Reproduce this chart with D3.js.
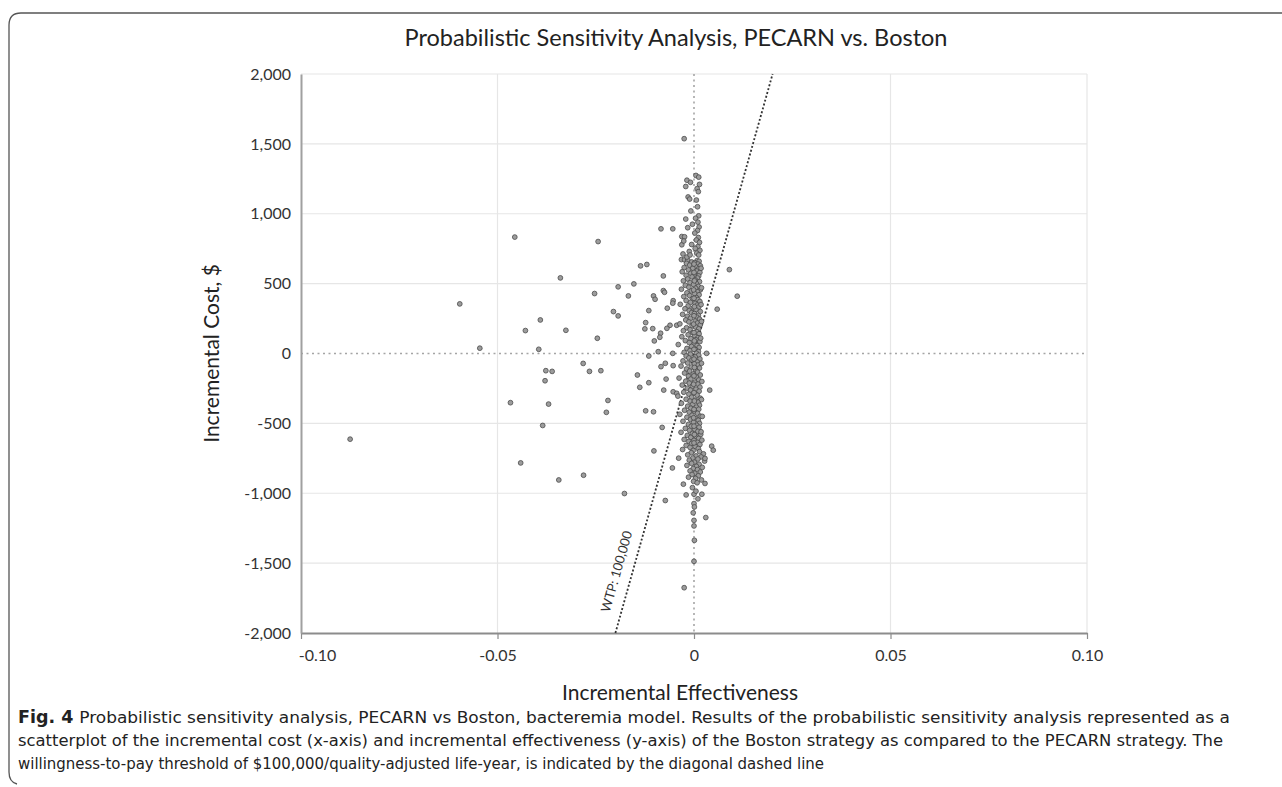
<!DOCTYPE html>
<html>
<head>
<meta charset="utf-8">
<script src="https://cdn.jsdelivr.net/npm/d3@7"></script>
<style>
  body { margin: 0; background: #fff; }
  svg { display: block; }
</style>
</head>
<body>
<svg id="chart"></svg>
<script>
const chartTitle = "Probabilistic Sensitivity Analysis, PECARN vs. Boston";
const xTitle = "Incremental Effectiveness";
const yTitle = "Incremental Cost, $";

const xTicks = [-0.1, -0.05, 0, 0.05, 0.1];
const xTickLabels = ["-0.10", "-0.05", "0", "0.05", "0.10"];
const yTicks = [-2000, -1500, -1000, -500, 0, 500, 1000, 1500, 2000];
const yTickLabels = ["-2,000", "-1,500", "-1,000", "-500", "0", "500", "1,000", "1,500", "2,000"];

const wtp = 100000;
const wtpLabel = "WTP: 100,000";

// [incremental effectiveness, incremental cost]
const outlierPoints = [
  [-0.0025, 1537], [-0.0456, 833], [-0.0244, 801], [-0.0340, 541], [-0.0596, 355],
  [-0.0084, 892], [-0.0054, 892], [-0.0136, 627], [-0.0120, 637], [-0.0078, 555],
  [-0.0253, 429], [-0.0193, 477], [-0.0153, 498], [-0.0167, 412], [-0.0205, 300],
  [-0.0193, 269], [-0.0391, 240], [-0.0429, 164], [-0.0326, 166], [-0.0246, 109],
  [-0.0545, 38], [-0.0395, 30], [-0.0115, 307], [-0.0103, 412], [-0.0099, 388],
  [-0.0078, 450], [-0.0075, 438], [-0.0123, 221], [-0.0105, 178], [-0.0125, 176],
  [-0.0068, 324], [-0.0053, 378], [-0.0054, 360], [-0.0085, 145], [-0.0087, 116],
  [-0.0101, 90], [-0.0061, 202], [-0.0044, 202], [-0.0069, 180], [-0.0115, -18],
  [-0.0091, 13], [-0.0054, 1], [0.0059, 317], [0.0090, 600], [0.0110, 410],
  [-0.0282, -71], [-0.0377, -123], [-0.0361, -128], [-0.0266, -128], [-0.0237, -123],
  [-0.0379, -195], [-0.0467, -352], [-0.0370, -362], [-0.0219, -336], [-0.0223, -421],
  [-0.0385, -515], [-0.0441, -783], [-0.0344, -905], [-0.0281, -871], [-0.0177, -1002],
  [-0.0144, -154], [-0.0138, -242], [-0.0115, -209], [-0.0123, -410], [-0.0103, -417],
  [-0.0071, -183], [-0.0077, -262], [-0.0081, -529], [-0.0102, -697], [-0.0073, -1052],
  [-0.0055, -819], [-0.0039, -749], [-0.0084, -94], [-0.0073, -70], [-0.0053, -87],
  [-0.0053, -274], [-0.0044, -285], [-0.0875, -613], [-0.0031, 837], [-0.0031, 778]
];

const clusterPoints = [
  [0.0005, 1274], [0.0012, 1262], [-0.0018, 1240], [-0.0009, 1225], [0.0014, 1210],
  [-0.0021, 1195], [0.0008, 1180], [0.0011, 1158], [-0.0015, 1120], [-0.0011, 1105],
  [0.0006, 1098], [0.0009, 1050], [-0.0008, 1020], [0.0012, 985], [0.0004, 968],
  [-0.0021, 962], [0.0010, 940], [-0.0004, 925], [0.0013, 905], [-0.0016, 900],
  [0.0009, 880], [0.0002, 862], [-0.0024, 835], [0.0011, 830], [0.0006, 812],
  [-0.0026, 805], [0.0014, 795], [-0.0006, 780], [0.0010, 765], [0.0003, 752],
  [0.0015, 738], [-0.0012, 730], [0.0007, 718], [-0.0028, 712], [0.0012, 705],
  [-0.0032, 672], [-0.0024, 670], [-0.0016, 668], [0.0008, 665], [0.0013, 660],
  [-0.0006, 655], [0.0002, 650], [-0.0019, 645], [0.0010, 640], [-0.0011, 632],
  [0.0016, 628], [0.0004, 622], [-0.0025, 615], [-0.0003, 610], [0.0011, 604],
  [-0.0014, 598], [0.0007, 590], [-0.0030, 585], [0.0015, 580], [-0.0008, 574],
  [0.0001, 568], [-0.0020, 560], [0.0012, 555], [-0.0005, 548], [0.0009, 540],
  [-0.0016, 533], [0.0003, 527], [-0.0027, 520], [0.0014, 514], [-0.0010, 507],
  [0.0006, 500], [-0.0001, 494], [-0.0022, 488], [0.0011, 480], [-0.0013, 474],
  [0.0004, 467], [-0.0032, 460], [0.0016, 455], [-0.0007, 448], [0.0009, 441],
  [-0.0018, 434], [0.0002, 428], [0.0013, 420], [-0.0011, 414], [-0.0026, 407],
  [0.0006, 400], [-0.0004, 392], [0.0010, 386], [-0.0020, 379], [0.0015, 372],
  [-0.0009, 366], [0.0003, 358], [-0.0035, 352], [0.0008, 346], [-0.0015, 340],
  [0.0012, 333], [-0.0002, 326], [-0.0023, 320], [0.0005, 313], [-0.0012, 306],
  [0.0016, 300], [-0.0006, 292], [0.0001, 286], [-0.0029, 280], [0.0011, 273],
  [-0.0017, 266], [0.0007, 260], [-0.0009, 252], [0.0014, 246], [-0.0021, 240],
  [0.0003, 232], [-0.0013, 226], [0.0009, 218], [-0.0036, 212], [0.0016, 205],
  [-0.0005, 198], [0.0004, 190], [-0.0019, 184], [0.0012, 176], [-0.0010, 170],
  [-0.0027, 163], [0.0007, 156], [-0.0003, 148], [0.0013, 141], [-0.0015, 134],
  [0.0002, 127], [-0.0031, 120], [0.0010, 113], [-0.0008, 106], [0.0005, 98],
  [-0.0022, 92], [0.0015, 85], [-0.0012, 78], [0.0001, 70], [-0.0040, 64],
  [0.0008, 57], [-0.0006, 50], [0.0013, 43], [-0.0018, 36], [0.0004, 28],
  [-0.0010, 21], [0.0011, 14], [-0.0025, 8], [0.0006, 2],
  [0.0000, 640], [0.0000, 580], [0.0001, 520], [-0.0001, 455], [0.0000, 395],
  [0.0001, 335], [0.0000, 270], [-0.0001, 210], [0.0000, 150], [0.0001, 90],
  [0.0000, 30], [0.0018, 610], [0.0019, 470], [0.0018, 350], [0.0019, 230],
  [0.0017, 110], [-0.0018, 690], [-0.0010, 705],
  [-0.0009, -5], [0.0012, -12], [-0.0020, -18], [0.0003, -25], [-0.0013, -32],
  [0.0015, -39], [-0.0005, -46], [-0.0028, -53], [0.0008, -60], [-0.0016, -68],
  [0.0001, -75], [0.0011, -82], [-0.0033, -90], [-0.0007, -97], [0.0014, -104],
  [-0.0019, -111], [0.0004, -118], [-0.0011, -126], [0.0009, -133], [-0.0024, -140],
  [-0.0002, -147], [0.0016, -154], [-0.0014, -162], [0.0006, -169], [-0.0038, -176],
  [-0.0008, -183], [0.0012, -190], [-0.0021, -198], [0.0002, -205], [-0.0012, -212],
  [0.0010, -219], [-0.0030, -226], [-0.0004, -234], [0.0015, -241], [-0.0017, -248],
  [0.0005, -255], [-0.0009, -262], [0.0013, -270], [-0.0026, -277], [0.0000, -284],
  [-0.0013, -291], [0.0008, -298], [-0.0041, -305], [-0.0006, -313], [0.0016, -320],
  [-0.0020, -327], [0.0003, -334], [-0.0010, -341], [0.0011, -348], [-0.0032, -356],
  [-0.0003, -363], [0.0014, -370], [-0.0016, -377], [0.0006, -384], [-0.0008, -392],
  [0.0012, -399], [-0.0024, -406], [0.0001, -413], [-0.0012, -420], [0.0009, -428],
  [-0.0036, -435], [-0.0005, -442], [0.0016, -449], [-0.0018, -456], [0.0004, -464],
  [-0.0009, -471], [0.0011, -478], [-0.0028, -485], [-0.0001, -492], [0.0014, -500],
  [-0.0014, -507], [0.0007, -514], [-0.0007, -521], [0.0013, -528], [-0.0022, -536],
  [0.0002, -543], [-0.0011, -550], [0.0010, -557], [-0.0033, -564], [-0.0004, -572],
  [0.0017, -579], [-0.0017, -586], [0.0005, -593], [-0.0008, -600], [0.0012, -608],
  [-0.0025, -615], [0.0000, -622], [-0.0013, -629], [0.0009, -636], [-0.0006, -644],
  [0.0015, -651], [-0.0020, -658], [0.0003, -665], [-0.0010, -672], [0.0011, -680],
  [-0.0029, -687], [-0.0002, -694],
  [0.0000, -40], [0.0001, -100], [0.0000, -160], [-0.0001, -220], [0.0000, -280],
  [0.0001, -340], [0.0000, -400], [-0.0001, -460], [0.0000, -520], [0.0001, -580],
  [0.0000, -640], [0.0019, -70], [0.0020, -200], [0.0019, -330], [0.0021, -450],
  [0.0018, -560], [0.0020, -620],
  [0.0014, -702], [-0.0007, -710], [0.0024, -718], [-0.0016, -725], [0.0005, -733],
  [0.0018, -740], [-0.0003, -748], [0.0010, -755], [-0.0012, -763], [0.0027, -770],
  [0.0001, -778], [-0.0006, -786], [0.0013, -793], [-0.0018, -801], [0.0006, -808],
  [0.0021, -815], [-0.0002, -823], [0.0009, -831], [-0.0010, -840], [0.0016, -848],
  [0.0002, -857], [-0.0005, -866], [0.0011, -875], [-0.0014, -885], [0.0004, -894],
  [0.0019, -905], [-0.0001, -915], [0.0008, -925],
  [-0.0027, -935], [-0.0020, -1012], [0.0000, -1007], [0.0020, -1007], [0.0028, -930],
  [0.0000, -1074], [0.0001, -1098], [0.0000, -1194], [0.0000, -1234], [0.0001, -1337],
  [0.0000, -1487], [-0.0025, -1676], [0.0030, -1174], [0.0045, -663], [0.0049, -692],
  [0.0028, -751], [0.0040, -262], [0.0032, 1], [-0.0004, -960], [0.0005, -985],
  [0.0010, -1040], [-0.0002, -1140]
];

const captionLabel = "Fig. 4";
const captionLines = [
  "Probabilistic sensitivity analysis, PECARN vs Boston, bacteremia model. Results of the probabilistic sensitivity analysis represented as a",
  "scatterplot of the incremental cost (x-axis) and incremental effectiveness (y-axis) of the Boston strategy as compared to the PECARN strategy. The",
  "willingness-to-pay threshold of $100,000/quality-adjusted life-year, is indicated by the diagonal dashed line"
];

const width = 1282, height = 787;
const plot = { left: 301, right: 1087, top: 74, bottom: 633 };
const chartFont = "Lato, 'Open Sans', sans-serif";

const svg = d3.select("#chart")
  .attr("width", width)
  .attr("height", height)
  .style("background", "#fff");

// frame of the figure
svg.append("path")
  .attr("d", "M1282,13 H21 Q9,13 9,25 V772 Q9,782 17,784")
  .attr("fill", "none")
  .attr("stroke", "#555")
  .attr("stroke-width", 1.3);

const x = d3.scaleLinear().domain([-0.1, 0.1]).range([plot.left, plot.right]);
const y = d3.scaleLinear().domain([-2000, 2000]).range([plot.bottom, plot.top]);

// gridlines
svg.append("g")
  .selectAll("line")
  .data(yTicks.filter(d => d !== 0 && d !== -2000))
  .join("line")
  .attr("x1", plot.left).attr("x2", plot.right)
  .attr("y1", d => y(d)).attr("y2", d => y(d))
  .attr("stroke", "#e6e6e6").attr("stroke-width", 1.2);

svg.append("g")
  .selectAll("line")
  .data(xTicks.filter(d => d !== 0 && d !== -0.1))
  .join("line")
  .attr("x1", d => x(d)).attr("x2", d => x(d))
  .attr("y1", plot.top).attr("y2", plot.bottom)
  .attr("stroke", "#e6e6e6").attr("stroke-width", 1.2);

// zero reference lines
svg.append("line")
  .attr("x1", plot.left).attr("x2", plot.right)
  .attr("y1", y(0)).attr("y2", y(0))
  .attr("stroke", "#a5a5a5").attr("stroke-width", 1.6)
  .attr("stroke-dasharray", "2,3.5");

svg.append("line")
  .attr("x1", x(0)).attr("x2", x(0))
  .attr("y1", plot.top).attr("y2", plot.bottom)
  .attr("stroke", "#a5a5a5").attr("stroke-width", 1.6)
  .attr("stroke-dasharray", "2,3.5");

// axes
const xAxis = svg.append("g")
  .attr("transform", "translate(0," + plot.bottom + ")")
  .call(d3.axisBottom(x).tickValues(xTicks)
    .tickFormat((d, i) => xTickLabels[i])
    .tickSizeInner(6).tickSizeOuter(0).tickPadding(11));
xAxis.select(".domain").attr("stroke", "#8c8c8c").attr("stroke-width", 2);
xAxis.selectAll(".tick line").attr("stroke", "#8c8c8c").attr("stroke-width", 1.2);
xAxis.selectAll("text")
  .attr("font-family", chartFont).attr("font-size", 16).attr("fill", "#333")
  .attr("dx", d => d === -0.1 ? 16 : 0);

const yAxis = svg.append("g")
  .attr("transform", "translate(" + plot.left + ",0)")
  .call(d3.axisLeft(y).tickValues(yTicks)
    .tickFormat((d, i) => yTickLabels[i])
    .tickSizeInner(0).tickSizeOuter(0).tickPadding(10));
yAxis.select(".domain").attr("stroke", "#a0a0a0").attr("stroke-width", 2);
yAxis.selectAll("text")
  .attr("font-family", chartFont).attr("font-size", 16).attr("fill", "#333");

// willingness-to-pay threshold line
const wtpCosts = [-2000, 2000];
const wtpLine = d3.line()
  .x(d => x(d / wtp))
  .y(d => y(d));
svg.append("path")
  .datum(wtpCosts)
  .attr("d", wtpLine)
  .attr("fill", "none")
  .attr("stroke", "#333")
  .attr("stroke-width", 1.8)
  .attr("stroke-dasharray", "2,2");

const wtpAngle = Math.atan2(y(2000) - y(-2000), x(2000 / wtp) - x(-2000 / wtp)) * 180 / Math.PI;
const labelCost = -1590;
svg.append("text")
  .attr("transform", "translate(" + x(labelCost / wtp) + "," + y(labelCost) + ") rotate(" + wtpAngle + ")")
  .attr("dy", -11)
  .attr("text-anchor", "middle")
  .attr("font-family", chartFont)
  .attr("font-size", 13)
  .attr("fill", "#333")
  .text(wtpLabel);

// PSA scatter
const allPoints = outlierPoints.concat(clusterPoints);
svg.append("g")
  .selectAll("circle")
  .data(allPoints)
  .join("circle")
  .attr("cx", d => x(d[0]))
  .attr("cy", d => y(d[1]))
  .attr("r", 2.4)
  .attr("fill", "#9c9c9c")
  .attr("stroke", "#4a4a4a")
  .attr("stroke-width", 0.8);

// titles
svg.append("text")
  .attr("x", 676).attr("y", 46)
  .attr("text-anchor", "middle")
  .attr("font-family", chartFont).attr("font-size", 23.5).attr("fill", "#222")
  .text(chartTitle);

svg.append("text")
  .attr("x", 680).attr("y", 700)
  .attr("text-anchor", "middle")
  .attr("font-family", chartFont).attr("font-size", 21).attr("fill", "#222")
  .text(xTitle);

svg.append("text")
  .attr("transform", "translate(219," + ((plot.top + plot.bottom) / 2) + ") rotate(-90)")
  .attr("text-anchor", "middle")
  .attr("font-family", chartFont).attr("font-size", 21).attr("fill", "#222")
  .text(yTitle);

// figure caption
const captionFont = "'Liberation Sans Narrow', 'DejaVu Sans Condensed', 'DejaVu Sans', sans-serif";
const captionWidths = [1212, 1205, 806];
const captionY = [723, 746, 769];
captionLines.forEach((line, i) => {
  const t = svg.append("text")
    .attr("x", 18).attr("y", captionY[i])
    .attr("font-family", captionFont).attr("font-size", 16.5).attr("fill", "#222")
    .attr("textLength", captionWidths[i])
    .attr("lengthAdjust", "spacingAndGlyphs");
  if (i === 0) {
    t.append("tspan").attr("font-weight", "bold").attr("font-size", 17).text(captionLabel + "  ");
  }
  t.append("tspan").text(line);
});
</script>
</body>
</html>
